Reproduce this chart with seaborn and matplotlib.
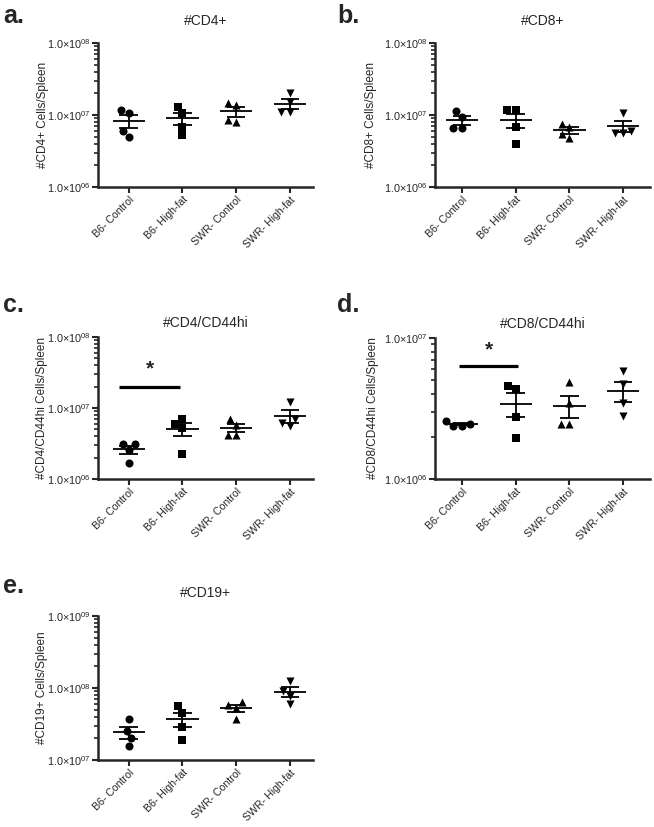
import numpy as np
import pandas as pd
import matplotlib
matplotlib.use("Agg")
import matplotlib.pyplot as plt
import seaborn as sns
from matplotlib.ticker import FixedLocator, LogLocator, NullFormatter, FuncFormatter

# ---------------- data ----------------
groups = ["B6- Control", "B6- High-fat", "SWR- Control", "SWR- High-fat"]
markers = ["o", "s", "^", "v"]

cd4_values = [
    [1.17e7, 1.05e7, 6.05e6, 5.0e6],
    [1.31e7, 1.05e7, 6.9e6, 5.3e6],
    [1.45e7, 1.38e7, 8.6e6, 8.0e6],
    [2.0e7, 1.53e7, 1.09e7, 1.09e7],
]
cd8_values = [
    [1.14e7, 9.5e6, 6.5e6, 6.5e6],
    [1.17e7, 1.17e7, 6.9e6, 3.96e6],
    [7.5e6, 6.75e6, 5.45e6, 4.75e6],
    [1.08e7, 6.0e6, 5.6e6, 5.6e6],
]
cd4_cd44_values = [
    [3.08e6, 3.08e6, 2.56e6, 1.70e6],
    [6.93e6, 5.95e6, 5.17e6, 2.25e6],
    [6.93e6, 5.77e6, 4.17e6, 4.17e6],
    [1.23e7, 6.93e6, 6.1e6, 5.63e6],
]
cd8_cd44_values = [
    [2.45e6, 2.39e6, 2.39e6, 2.57e6],
    [4.35e6, 4.59e6, 2.74e6, 1.94e6],
    [4.85e6, 3.44e6, 2.44e6, 2.44e6],
    [5.86e6, 4.72e6, 3.44e6, 2.8e6],
]
cd19_values = [
    [3.68e7, 2.52e7, 2.0e7, 1.56e7],
    [5.61e7, 4.5e7, 2.9e7, 1.89e7],
    [6.37e7, 5.72e7, 5.3e7, 3.68e7],
    [1.24e8, 9.18e7, 7.85e7, 6.04e7],
]

titles = ["#CD4+", "#CD8+", "#CD4/CD44hi", "#CD8/CD44hi", "#CD19+"]
ylabels = ["#CD4+ Cells/Spleen", "#CD8+ Cells/Spleen", "#CD4/CD44hi Cells/Spleen",
           "#CD8/CD44hi Cells/Spleen", "#CD19+ Cells/Spleen"]
letters = ["a.", "b.", "c.", "d.", "e."]

# ---------------- style ----------------
sns.set_style("ticks")
plt.rcParams["font.family"] = ["Liberation Sans", "DejaVu Sans"]
plt.rcParams["mathtext.fontset"] = "custom"
plt.rcParams["mathtext.rm"] = "Liberation Sans"
plt.rcParams["mathtext.it"] = "Liberation Sans:italic"
plt.rcParams["mathtext.bf"] = "Liberation Sans:bold"

W, H = 654, 827
fig = plt.figure(figsize=(W / 100, H / 100), dpi=100)


def px_rect(x, y, w, h):
    return [x / W, 1 - (y + h) / H, w / W, h / H]


def fmt(v, pos):
    e = int(round(np.log10(v)))
    return "1.0×10$^{%02d}$" % e


panels = [
    dict(values=cd4_values, rect=(98, 43, 215, 144), ylim=(1e6, 1e8), xlim=(-0.57, 3.43),
         lab_off=55, pad=13, letter_xy=(3, 23), sig=None),
    dict(values=cd8_values, rect=(435, 43, 215, 144), ylim=(1e6, 1e8), xlim=(-0.5, 3.5),
         lab_off=64, pad=13, letter_xy=(337, 23), sig=None),
    dict(values=cd4_cd44_values, rect=(98, 337, 215, 142), ylim=(1e6, 1e8), xlim=(-0.57, 3.43),
         lab_off=56, pad=7, letter_xy=(3, 312),
         sig=dict(x0=-0.17, x1=0.95, y=1.95e7, star_y=3.5e7)),
    dict(values=cd8_cd44_values, rect=(435, 338, 215, 141), ylim=(1e6, 1e7), xlim=(-0.5, 3.5),
         lab_off=62, pad=7, letter_xy=(337, 312),
         sig=dict(x0=-0.05, x1=1.05, y=6.3e6, star_y=8.2e6)),
    dict(values=cd19_values, rect=(98, 616, 215, 144), ylim=(1e7, 1e9), xlim=(-0.57, 3.43),
         lab_off=56, pad=14, letter_xy=(3, 593), sig=None),
]

for k, p in enumerate(panels):
    ax = fig.add_axes(px_rect(*p["rect"]))
    ax.set_yscale("log")
    vals = p["values"]
    df = pd.DataFrame({"group": np.repeat(groups, [len(v) for v in vals]),
                       "value": np.concatenate(vals)})
    for i, (g, m) in enumerate(zip(groups, markers)):
        sns.swarmplot(data=df[df["group"] == g], x="group", y="value", order=groups,
                      marker=m, color="black", size=5.8, linewidth=0, ax=ax)
        v = np.asarray(vals[i])
        mean = v.mean()
        sem = v.std(ddof=1) / np.sqrt(len(v))
        ax.hlines(mean, i - 0.3, i + 0.3, color="black", lw=1.3, zorder=4)
        ax.hlines([mean - sem, mean + sem], i - 0.17, i + 0.17, color="black", lw=1.3, zorder=4)
        ax.vlines(i, mean - sem, mean + sem, color="black", lw=1.3, zorder=4)

    lo, hi = p["ylim"]
    majors = [10 ** e for e in range(int(np.log10(lo)), int(np.log10(hi)) + 1)]
    ax.yaxis.set_major_locator(FixedLocator(majors))
    ax.yaxis.set_major_formatter(FuncFormatter(fmt))
    ax.yaxis.set_minor_locator(LogLocator(base=10, subs=np.arange(2, 10)))
    ax.yaxis.set_minor_formatter(NullFormatter())
    ax.set_ylim(lo, hi)
    ax.set_xlim(*p["xlim"])

    ax.set_xticks(range(len(groups)))
    ax.set_xticklabels(groups, rotation=45, ha="right", rotation_mode="anchor", fontsize=7.6)
    ax.set_xlabel("")
    ax.tick_params(axis="y", which="major", length=4, width=1.5, labelsize=7.8, pad=1.5)
    ax.tick_params(axis="y", which="minor", length=2.8, width=1.2)
    ax.tick_params(axis="x", which="major", length=4, width=1.5, pad=1.5)

    for s in ["top", "right"]:
        ax.spines[s].set_visible(False)
    for s in ["left", "bottom"]:
        ax.spines[s].set_linewidth(1.8)

    ax.set_ylabel(ylabels[k], fontsize=8.5)
    ax.yaxis.label.set_verticalalignment("center")
    ax.yaxis.set_label_coords(-p["lab_off"] / p["rect"][2], 0.5)
    ax.set_title(titles[k], fontsize=10, pad=p["pad"])

    if p["sig"] is not None:
        s = p["sig"]
        ax.hlines(s["y"], s["x0"], s["x1"], color="black", lw=2.3)
        ax.text((s["x0"] + s["x1"]) / 2, s["star_y"], "*", ha="center", va="center",
                fontsize=15, fontweight="bold")

    lx, ly = p["letter_xy"]
    fig.text(lx / W, 1 - ly / H, letters[k], fontsize=18, fontweight="bold",
             ha="left", va="baseline")

fig.savefig("out.png", dpi=100)
